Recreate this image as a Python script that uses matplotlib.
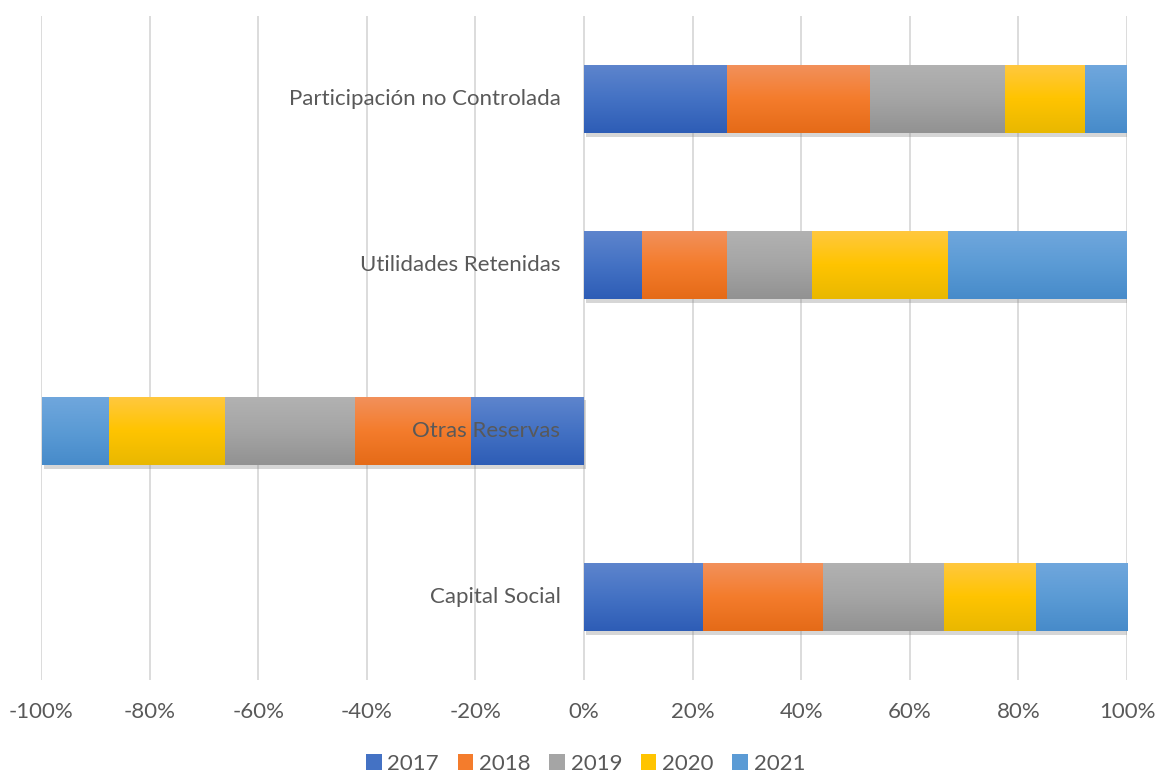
import matplotlib.pyplot as plt
import matplotlib.patheffects as pe
import numpy as np
from matplotlib.colors import LinearSegmentedColormap

plt.rcParams['font.family'] = ['Lato', 'DejaVu Sans']

categories = ["Capital Social", "Otras Reservas", "Utilidades Retenidas",
              "Participación no Controlada"]
years = ["2017", "2018", "2019", "2020", "2021"]
# share of each year within each category (Otras Reservas is negative)
values = {
    "2017": [0.219, -0.208, 0.107, 0.263],
    "2018": [0.221, -0.215, 0.156, 0.263],
    "2019": [0.223, -0.239, 0.156, 0.250],
    "2020": [0.169, -0.213, 0.252, 0.147],
    "2021": [0.168, -0.123, 0.329, 0.077],
}
xticks = [-1.0, -0.8, -0.6, -0.4, -0.2, 0.0, 0.2, 0.4, 0.6, 0.8, 1.0]

# (top, middle, bottom) shades for the gradient fill
shades = {
    "2017": ("#5e85cd", "#4472c4", "#2e5db6"),
    "2018": ("#f2915c", "#f47c2c", "#e56b18"),
    "2019": ("#b2b2b2", "#a5a5a5", "#929292"),
    "2020": ("#ffc840", "#ffc400", "#e9b800"),
    "2021": ("#70a7dd", "#5b9bd5", "#478bca"),
}

text_color = "#595959"
fs = 16
fig = plt.figure(figsize=(11.55, 7.73), dpi=100)
ax = fig.add_axes([41 / 1155, 1 - 680 / 773, 1086 / 1155, 664 / 773])

y = np.arange(len(categories))
height = 0.41
pos_left = np.zeros(len(categories))
neg_left = np.zeros(len(categories))
for yr in years:
    vals = np.array(values[yr])
    left = np.where(vals >= 0, pos_left, neg_left)
    bars = ax.barh(y, vals, left=left, height=height, color=shades[yr][1],
                   label=yr, zorder=3, linewidth=0)
    for bar, v in zip(bars, vals):
        bar.set_path_effects([pe.SimplePatchShadow(offset=(1.5, -2.5), shadow_rgbFace="#8a8a8a",
                                                   alpha=0.35), pe.Normal()])
        x0, y0 = bar.get_x(), bar.get_y()
        w, h = bar.get_width(), bar.get_height()
        cmap = LinearSegmentedColormap.from_list(yr, list(shades[yr])[::-1])
        grad = np.linspace(0, 1, 64).reshape(-1, 1)
        im = ax.imshow(grad, cmap=cmap, aspect="auto", origin="lower",
                       extent=(min(x0, x0 + w), max(x0, x0 + w), y0, y0 + h),
                       zorder=3.5, interpolation="bilinear")
        im.set_clip_path(bar)
    pos_left += np.where(vals >= 0, vals, 0)
    neg_left += np.where(vals < 0, vals, 0)

ax.set_xlim(-1, 1)
ax.set_ylim(-0.5, len(categories) - 0.5)
ax.set_xticks(xticks)
ax.set_xticklabels([f"{int(round(t * 100))}%" for t in xticks])
ax.set_yticks([])
ax.tick_params(axis="x", length=0, pad=16, labelsize=fs, labelcolor=text_color)
ax.grid(axis="x", color="#d9d9d9", linewidth=1.3, zorder=0)
for s in ax.spines.values():
    s.set_visible(False)

# category labels sit beside the zero line
for yi, name in zip(y, categories):
    ax.annotate(name, xy=(0, yi), xytext=(-17, 0), textcoords="offset points",
                ha="right", va="center", fontsize=fs, color=text_color, zorder=5)

leg = fig.legend(loc="lower center", bbox_to_anchor=(0.507, -0.017), ncol=5,
                 frameon=False, fontsize=fs, handlelength=0.7, handleheight=0.7,
                 handletextpad=0.25, columnspacing=0.85, borderpad=0.05)
for t in leg.get_texts():
    t.set_color(text_color)
for h in leg.legend_handles:
    h.set_path_effects([])

fig.savefig("out.png", dpi=100)
